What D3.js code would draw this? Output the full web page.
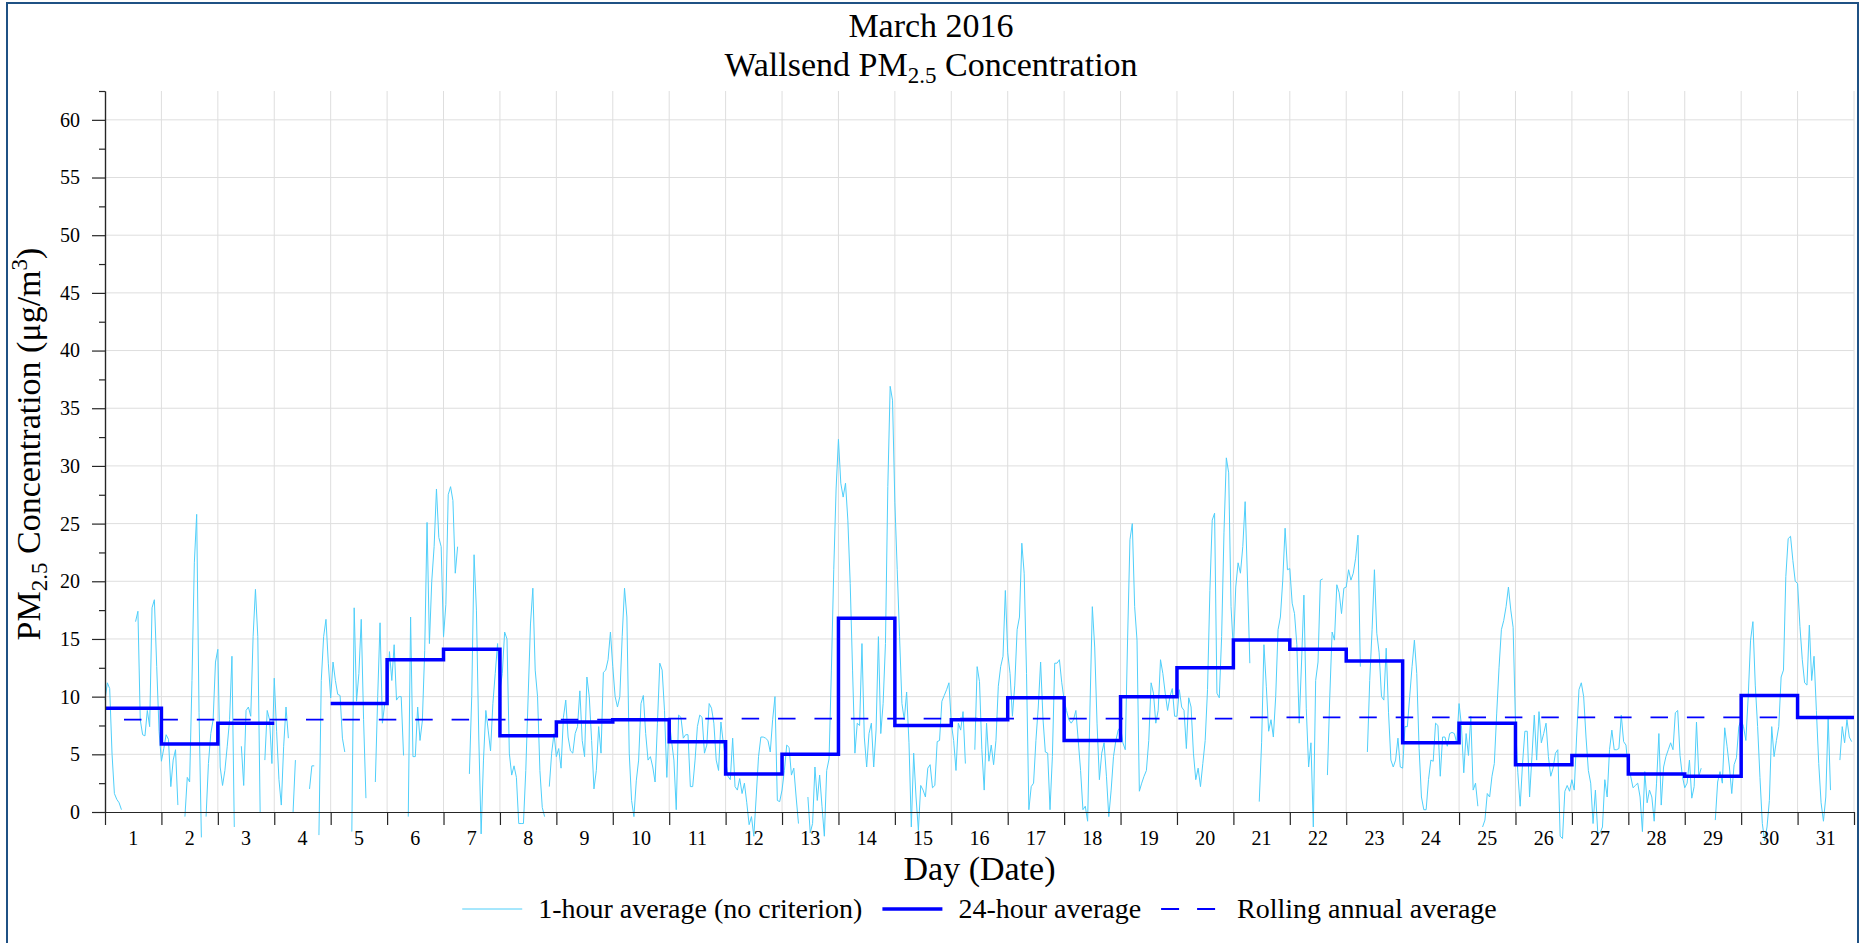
<!DOCTYPE html>
<html>
<head>
<meta charset="utf-8">
<script src="https://cdn.jsdelivr.net/npm/d3@7"></script>
<style>
  body { margin: 0; background: #fff; }
  svg { display: block; font-family: "Liberation Serif", "Times New Roman", serif; }
</style>
</head>
<body>
<svg id="chart" width="1861" height="943"></svg>
<script>
// 1-hour averages (ug/m3), one array per day, hours 00..23, null = no data
var mar01 = [9.7, 11.2, 10.7, 5.0, 1.6, 1.1, 0.8, 0.2, null, null, null, null, null, 16.5, 17.4, 8.0, 6.7, 6.6, 8.8, 7.4, 17.7, 18.4, 12.6, 7.0];
var mar02 = [4.4, 5.5, 6.7, 6.3, 2.2, 4.5, 5.4, 0.6, null, null, -0.4, 3.0, 2.6, 11.4, 21.6, 25.8, 8.6, -2.2, null, -0.4, 4.2, 6.8, 8.0, 13.0];
var mar03 = [14.1, 3.9, 2.3, 3.6, 5.7, 8.0, 13.5, -1.3, null, null, 5.7, 2.3, 8.8, 9.1, 8.3, 15.2, 19.3, 15.2, 0.0, null, 4.5, 8.8, 8.0, 4.2];
var mar04 = [11.6, 7.0, 2.8, 0.6, 5.7, 9.1, 6.4, null, 0.0, 4.5, null, null, null, null, null, 2.0, 4.0, 4.0, null, -2.0, 11.4, 15.2, 16.7, 12.9];
var mar05 = [9.9, 13.0, 11.4, 10.2, 10.1, 6.4, 5.2, null, null, -1.7, 17.7, 9.6, 12.0, 16.7, 8.0, 1.2, null, null, null, 2.6, 10.0, 16.4, 7.7, 9.4];
var mar06 = [9.4, 13.9, 11.4, 14.5, 9.7, 10.0, 10.0, 4.9, null, -0.4, 16.9, 4.8, 4.8, 9.1, 6.2, 7.9, 14.0, 25.1, 14.6, 20.0, 23.0, 28.0, 23.8, 23.0];
var mar07 = [15.2, 18.0, 27.5, 28.2, 27.0, 20.7, 23.0, null, null, null, null, 3.3, 10.0, 22.3, 17.5, 6.5, -1.9, 4.5, 8.8, 7.1, 5.3, 9.4, 12.0, 14.6];
var mar08 = [10.5, 12.0, 15.6, 15.0, 5.1, 3.2, 4.0, 3.0, -1.0, -1.0, -1.0, 3.6, 10.0, 16.3, 19.4, 12.3, 10.0, 3.6, 0.4, -0.4, null, 2.2, 5.1, 6.8];
var mar09 = [4.8, 5.5, 3.8, 8.2, 9.7, 6.5, 5.3, 5.1, 6.8, 7.4, 10.5, 6.2, 4.8, 11.7, 10.0, 6.2, 2.0, 3.6, 7.4, 5.1, 12.1, 12.3, 13.2, 15.6];
var mar10 = [12.6, 10.0, 9.1, 10.0, 15.2, 19.4, 16.9, 5.1, 1.0, -0.4, 2.7, 4.5, 9.4, 10.1, 6.8, 4.5, 4.8, 3.9, 2.6, 7.7, 12.9, 12.3, 8.8, 3.0];
var mar11 = [8.0, 6.2, 4.5, 0.2, 8.4, 8.2, 6.4, 6.7, 6.7, 2.2, 2.2, 4.5, 7.4, 8.4, 8.2, 5.1, 5.8, 9.4, 9.0, 7.7, 4.5, 3.6, 7.8, 6.0];
var mar12 = [4.5, 3.1, 2.8, 6.4, 2.2, 1.9, 2.9, 1.6, 2.5, 0.8, -1.1, -0.4, -2.1, 1.3, 4.8, 6.5, 6.5, 6.4, 6.2, 5.2, 8.0, 10.0, 1.0, 0.9];
var mar13 = [1.9, 3.6, 5.8, 5.6, 3.2, 3.8, 1.3, -1.0, null, null, null, 1.3, -1.8, -1.0, 3.9, 1.0, 3.2, 0.5, -2.1, 3.6, 4.6, 12.3, 21.0, 28.0];
var mar14 = [32.3, 28.5, 27.3, 28.5, 25.3, 19.8, 12.3, 5.1, 7.7, 7.5, 14.6, 6.5, 3.9, 6.8, 7.7, 3.9, 7.1, 15.2, 6.8, 9.4, 14.6, 28.2, 36.9, 35.7];
var mar15 = [26.8, 21.0, 15.2, 9.4, 8.0, 10.4, 6.0, -1.3, 5.1, 1.3, -1.6, 2.3, 1.9, 1.3, 3.8, 4.1, 2.1, 2.3, 6.1, 6.2, 9.6, 10.1, 10.6, 11.2];
var mar16 = [7.7, 6.2, 3.6, 7.7, 7.1, 8.7, 4.2, null, null, null, 5.4, 12.6, 11.3, 5.4, 1.9, 7.7, 4.4, 5.8, 4.1, 6.2, 10.9, 12.6, 13.5, 19.2];
var mar17 = [13.8, 12.0, 8.3, 11.0, 15.8, 16.9, 23.3, 20.7, 12.0, 0.2, 2.2, 2.5, 6.2, 9.1, 13.0, 8.1, 5.2, 5.1, 0.2, 4.8, 12.9, 12.9, 13.2, 11.2];
var mar18 = [9.7, 8.8, 8.0, 7.7, 8.0, 8.8, 6.2, 3.6, 0.2, 0.5, -0.8, 9.1, 17.8, 14.3, 7.7, 2.8, 5.1, 6.0, 3.1, -0.4, 1.9, 4.8, 6.2, 7.1];
var mar19 = [7.4, 6.0, 5.4, 15.0, 23.6, 25.0, 17.8, 14.9, 1.8, 2.5, 3.1, 3.6, 6.2, 11.2, 10.3, 7.7, 8.8, 13.2, 12.0, 10.3, 8.8, 10.0, 10.7, 8.3];
var mar20 = [8.3, 10.6, 9.1, 8.8, 5.5, 9.9, 9.1, 5.1, 2.8, 3.8, 2.2, 4.2, 6.2, 10.6, 19.2, 25.3, 25.9, 10.3, 9.9, 15.2, 24.2, 30.7, 29.4, 17.8];
var mar21 = [14.0, 19.5, 21.6, 20.7, 23.0, 26.9, 20.1, 12.9, null, null, null, 0.9, 6.0, 14.5, 10.9, 7.0, 8.0, 6.5, 10.0, 15.8, 16.9, 20.1, 24.6, 21.0];
var mar22 = [21.1, 18.1, 17.2, 14.5, 7.7, 13.0, 18.8, 9.0, 3.9, 6.0, -1.3, 11.4, 13.0, 20.1, 20.2, null, 3.2, 10.0, 15.6, 14.9, 19.7, 19.0, 17.2, 19.4];
var mar23 = [19.5, 21.0, 20.1, 20.7, 22.0, 24.0, 12.6, null, null, 5.2, 11.4, 15.8, 21.0, 15.5, 13.8, 10.0, 9.7, 14.2, 8.6, 4.5, 3.9, 4.5, 6.4, 3.9];
var mar24 = [3.8, 7.4, 7.4, 10.0, 12.6, 14.9, 12.0, 5.5, 1.3, 0.2, 0.2, 2.8, 4.5, 4.4, 7.7, 7.5, 3.1, 6.5, 6.5, 5.7, 6.8, 6.9, 6.8, 6.0];
var mar25 = [9.4, 7.5, 3.4, 6.8, 4.9, 8.3, 1.9, 2.5, 0.5, null, -1.3, -0.7, 1.6, 1.3, 3.1, 4.2, 8.5, 12.5, 15.8, 16.6, 17.8, 19.5, 17.5, 16.0];
var mar26 = [7.7, 3.4, 0.5, 4.2, 7.0, 7.0, 1.3, 4.8, 8.4, 4.5, 8.7, 6.0, 6.8, 7.7, 4.8, 3.1, 3.8, 5.1, 5.4, -2.1, -2.3, 1.8, 2.3, 1.8];
var mar27 = [2.8, 1.9, 6.5, 10.6, 11.2, 10.0, 6.5, 3.6, 2.5, -1.0, 1.9, -1.8, -1.8, -1.3, 2.8, 1.3, 5.4, 7.1, 5.4, 5.4, 5.5, 8.4, 6.1, 5.8];
var mar28 = [3.6, 3.1, 2.1, 2.3, 2.5, 1.3, -1.7, 3.5, 0.8, 1.9, 1.3, -0.8, 2.5, 6.8, 0.6, 3.9, 4.8, 5.4, 6.0, 5.4, 8.6, 8.8, 4.9, 3.1];
var mar29 = [2.1, 2.5, 4.5, 1.2, 2.2, 7.8, 3.1, 3.8, null, null, null, null, null, -0.7, 2.6, 3.5, 2.5, 7.3, 5.7, 3.9, 1.6, 4.1, 4.7, 7.4];
var mar30 = [8.0, 7.4, 6.2, 10.0, 14.9, 16.5, 11.0, 7.4, 3.0, -1.0, -2.5, -1.3, 1.0, 7.4, 4.8, 6.2, 7.4, 11.7, 12.3, 20.4, 23.7, 23.9, 21.8, 20.0];
var mar31 = [19.8, 16.1, 13.2, 11.2, 11.0, 16.2, 11.4, 13.5, 8.8, 4.2, 0.8, -0.8, 1.3, 8.3, 1.9, null, null, null, 4.5, 7.4, 6.0, 8.0, 6.5, 6.1];

var hourly = [mar01, mar02, mar03, mar04, mar05, mar06, mar07, mar08, mar09, mar10,
              mar11, mar12, mar13, mar14, mar15, mar16, mar17, mar18, mar19, mar20,
              mar21, mar22, mar23, mar24, mar25, mar26, mar27, mar28, mar29, mar30, mar31];

// 24-hour averages, day 4 had too few valid hours
var dailyAvg = [9.0, 5.9, 7.7, null, 9.4, 13.2, 14.1, 6.6, 7.8, 8.0,
                6.1, 3.3, 5.0, 16.8, 7.5, 8.0, 9.9, 6.2, 10.0, 12.5,
                14.9, 14.1, 13.1, 6.0, 7.7, 4.1, 4.9, 3.3, 3.1, 10.1, 8.2];

var rollingAnnual = [8.0, 8.0, 8.0, 8.0, 8.0, 8.0, 8.0, 8.0, 8.0, 8.0,
                     8.1, 8.1, 8.1, 8.1, 8.1, 8.1, 8.1, 8.1, 8.1, 8.1,
                     8.2, 8.2, 8.2, 8.2, 8.2, 8.2, 8.2, 8.2, 8.2, 8.2, 8.2];

var dayLabels = ['1', '2', '3', '4', '5', '6', '7', '8', '9', '10', '11', '12', '13', '14', '15', '16',
                 '17', '18', '19', '20', '21', '22', '23', '24', '25', '26', '27', '28', '29', '30', '31'];
var dayEdges = [0, 1, 2, 3, 4, 5, 6, 7, 8, 9, 10, 11, 12, 13, 14, 15, 16,
                17, 18, 19, 20, 21, 22, 23, 24, 25, 26, 27, 28, 29, 30, 31];
var yTicks = [0, 5, 10, 15, 20, 25, 30, 35, 40, 45, 50, 55, 60];
var yMinorTicks = [2.5, 7.5, 12.5, 17.5, 22.5, 27.5, 32.5, 37.5, 42.5, 47.5, 52.5, 57.5, 62.5];
var legendLabels = ['1-hour average (no criterion)', '24-hour average', 'Rolling annual average'];

var plot = { left: 105, right: 1854, top: 91, bottom: 812 };
var axisColor = '#262626',
    gridColor = '#dedede',
    hourColor = '#4fcffa',
    dayColor = '#0000ff';

var svg = d3.select('#chart');

var x = d3.scaleLinear().domain([0, 31]).range([plot.left, plot.right]);
var xDays = d3.scaleBand().domain(dayLabels).range([plot.left, plot.right]);
var y = d3.scaleLinear().domain([0, 62.5]).range([plot.bottom, plot.top]);

// outer frame
svg.append('rect')
	.attr('x', 7).attr('y', 3)
	.attr('width', 1851).attr('height', 1000)
	.attr('fill', 'none')
	.attr('stroke', '#1f5184')
	.attr('stroke-width', 2);

// grid
var grid = svg.append('g').attr('stroke', gridColor).attr('stroke-width', 1);
grid.selectAll('.vgrid').data(dayEdges.slice(1)).join('line')
	.attr('class', 'vgrid')
	.attr('x1', function(d) { return x(d); })
	.attr('x2', function(d) { return x(d); })
	.attr('y1', plot.top).attr('y2', plot.bottom);
grid.selectAll('.hgrid').data(yTicks.slice(1)).join('line')
	.attr('class', 'hgrid')
	.attr('x1', plot.left).attr('x2', plot.right)
	.attr('y1', function(d) { return y(d); })
	.attr('y2', function(d) { return y(d); });

// flatten the data into points along the day axis
var hourPoints = [];
hourly.forEach(function(day, di) {
	day.forEach(function(v, h) { hourPoints.push({ t: di + h / 24, v: v }); });
});
var stepPoints = function(values) {
	var pts = [];
	values.forEach(function(v, i) {
		pts.push({ t: i, v: v });
		pts.push({ t: i + 1, v: v });
	});
	return pts;
};

var line = d3.line()
	.defined(function(d) { return d.v !== null; })
	.x(function(d) { return x(d.t); })
	.y(function(d) { return y(d.v); });

svg.append('path')
	.datum(hourPoints)
	.attr('d', line)
	.attr('fill', 'none')
	.attr('stroke', hourColor)
	.attr('stroke-width', 1)
	.attr('stroke-linejoin', 'round');

svg.append('path')
	.datum(stepPoints(rollingAnnual))
	.attr('d', line)
	.attr('fill', 'none')
	.attr('stroke', dayColor)
	.attr('stroke-width', 1.8)
	.attr('stroke-dasharray', '17.5,18.9')
	.attr('stroke-dashoffset', 17.4);

svg.append('path')
	.datum(stepPoints(dailyAvg))
	.attr('d', line)
	.attr('fill', 'none')
	.attr('stroke', dayColor)
	.attr('stroke-width', 3.5)
	.attr('stroke-linejoin', 'miter');

// axes
var styleAxis = function(g, size) {
	g.select('.domain').attr('stroke', axisColor).attr('stroke-width', 1.2);
	g.selectAll('.tick line').attr('stroke', axisColor).attr('stroke-width', 1.2);
	g.selectAll('.tick text')
		.attr('fill', '#000')
		.attr('font-family', '"Liberation Serif", "Times New Roman", serif')
		.attr('font-size', size);
};

svg.append('g')
	.attr('transform', 'translate(0,' + plot.bottom + ')')
	.call(d3.axisBottom(x).tickValues(dayEdges).tickSizeInner(13).tickSizeOuter(0).tickFormat(''))
	.call(styleAxis, 20);

svg.append('g')
	.attr('transform', 'translate(0,' + plot.bottom + ')')
	.call(d3.axisBottom(xDays).tickSize(0).tickPadding(19))
	.call(function(g) { g.select('.domain').remove(); })
	.call(styleAxis, 20);

svg.append('g')
	.attr('transform', 'translate(' + plot.left + ',0)')
	.call(d3.axisLeft(y).tickValues(yMinorTicks).tickSizeInner(6).tickSizeOuter(0).tickFormat(''))
	.call(styleAxis, 20);

svg.append('g')
	.attr('transform', 'translate(' + plot.left + ',0)')
	.call(d3.axisLeft(y).tickValues(yTicks).tickSizeInner(13).tickSizeOuter(0).tickPadding(12))
	.call(styleAxis, 20);

// titles
svg.append('text')
	.attr('x', 931).attr('y', 37)
	.attr('text-anchor', 'middle')
	.attr('font-size', 34)
	.text('March 2016');

var title2 = svg.append('text')
	.attr('x', 931).attr('y', 76)
	.attr('text-anchor', 'middle')
	.attr('font-size', 34);
title2.append('tspan').text('Wallsend PM');
title2.append('tspan').attr('font-size', 23).attr('dy', 7).text('2.5');
title2.append('tspan').attr('dy', -7).text(' Concentration');

svg.append('text')
	.attr('x', (plot.left + plot.right) / 2).attr('y', 880)
	.attr('text-anchor', 'middle')
	.attr('font-size', 34)
	.text('Day (Date)');

var yTitle = svg.append('text')
	.attr('transform', 'translate(40,444) rotate(-90)')
	.attr('text-anchor', 'middle')
	.attr('font-size', 34);
yTitle.append('tspan').text('PM');
yTitle.append('tspan').attr('font-size', 23).attr('dy', 7).text('2.5');
yTitle.append('tspan').attr('dy', -7).text(' Concentration (\u03bcg/m');
yTitle.append('tspan').attr('font-size', 23).attr('dy', -13).text('3');
yTitle.append('tspan').attr('dy', 13).text(')');

// legend
var legendY = 909,
    sampleLen = 60,
    sampleGap = 16,
    itemGap = 20;
var legend = svg.append('g');
var items = legend.selectAll('g').data(legendLabels).join('g');
items.append('text')
	.attr('font-size', 28)
	.attr('y', legendY)
	.attr('dy', '0.33em')
	.text(function(d) { return d; });

var widths = [];
items.select('text').each(function() { widths.push(this.getComputedTextLength()); });
var total = d3.sum(widths) + legendLabels.length * (sampleLen + sampleGap) + (legendLabels.length - 1) * itemGap;
var cursor = (plot.left + plot.right) / 2 - total / 2;
var styles = [
	{ color: hourColor, width: 1, dash: null },
	{ color: dayColor, width: 3.5, dash: null },
	{ color: dayColor, width: 1.8, dash: '18,18' }
];
items.each(function(d, i) {
	var g = d3.select(this);
	g.insert('line', 'text')
		.attr('x1', cursor).attr('x2', cursor + sampleLen)
		.attr('y1', legendY).attr('y2', legendY)
		.attr('stroke', styles[i].color)
		.attr('stroke-width', styles[i].width)
		.attr('stroke-dasharray', styles[i].dash);
	g.select('text').attr('x', cursor + sampleLen + sampleGap);
	cursor += sampleLen + sampleGap + widths[i] + itemGap;
});
</script>
</body>
</html>
